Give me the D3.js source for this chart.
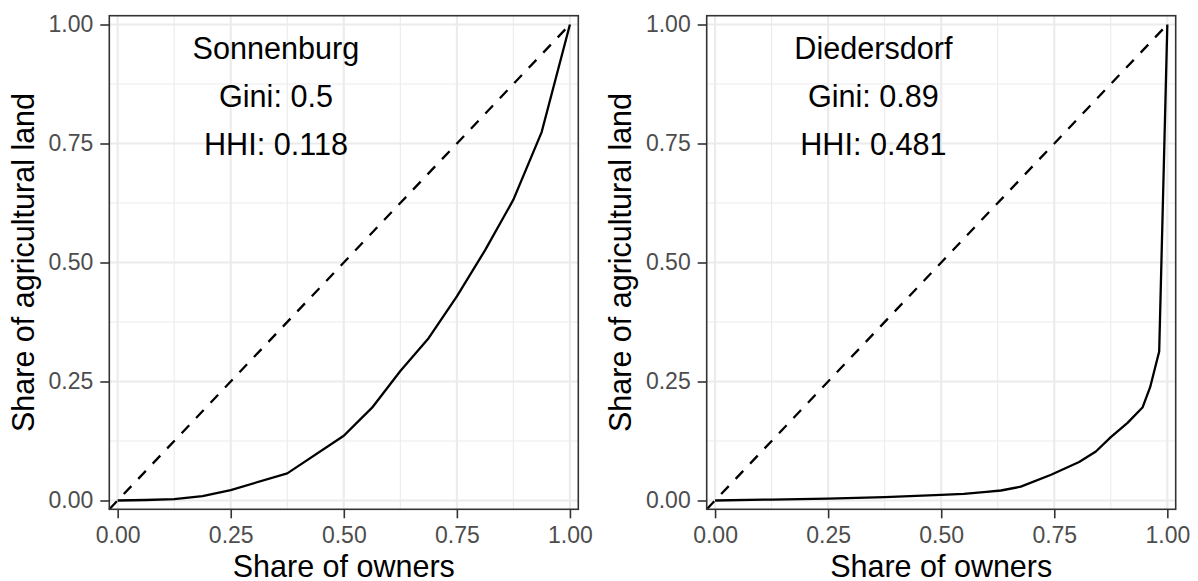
<!DOCTYPE html>
<html>
<head>
<meta charset="utf-8">
<script src="https://cdn.jsdelivr.net/npm/d3@7"></script>
<style>
  html, body { margin: 0; padding: 0; background: #ffffff; }
  svg { display: block; font-family: "Liberation Sans", Arial, sans-serif; }
</style>
</head>
<body>
<svg id="chart" width="1198" height="581"></svg>
<script>
// Lorenz curves of agricultural land ownership for two villages

// Sonnenburg: cumulative share of owners vs cumulative share of land
const ownersSonnenburg = [0, 0.0625, 0.125, 0.1875, 0.25, 0.375, 0.5, 0.5625, 0.625, 0.6875, 0.75, 0.8125, 0.875, 0.9375, 1];
const landSonnenburg   = [0, 0.001, 0.003, 0.009, 0.022, 0.057, 0.136, 0.195, 0.272, 0.341, 0.429, 0.526, 0.632, 0.774, 1];

// Diedersdorf
const ownersDiedersdorf = [0, 0.125, 0.25, 0.375, 0.5, 0.55, 0.6, 0.632, 0.676, 0.743, 0.805, 0.842, 0.875, 0.912, 0.9455, 0.962, 0.982, 1];
const landDiedersdorf   = [0, 0.002, 0.004, 0.007, 0.012, 0.014, 0.018, 0.021, 0.029, 0.054, 0.081, 0.103, 0.133, 0.163, 0.196, 0.238, 0.313, 1];

// Annotation text per panel
const villageNames = ["Sonnenburg", "Diedersdorf"];
const giniValues = ["0.5", "0.89"];
const hhiValues = ["0.118", "0.481"];

// Axis ticks
const majorTicks = [0, 0.25, 0.5, 0.75, 1];
const minorTicks = [0.125, 0.375, 0.625, 0.875];

// Axis titles
const xTitle = "Share of owners";
const yTitle = "Share of agricultural land";

const panels = [
  { name: villageNames[0], gini: giniValues[0], hhi: hhiValues[0], owners: ownersSonnenburg, land: landSonnenburg, left: 109.3, right: 578.3, titleX: 34 },
  { name: villageNames[1], gini: giniValues[1], hhi: hhiValues[1], owners: ownersDiedersdorf, land: landDiedersdorf, left: 706.7, right: 1175.7, titleX: 631 }
];

const panelTop = 15.7, panelBottom = 509.3;
const expand = 0.0185;
const svg = d3.select("#chart");

panels.forEach(p => {
  const x = d3.scaleLinear().domain([-expand, 1 + expand]).range([p.left, p.right]);
  const y = d3.scaleLinear().domain([-expand, 1 + expand]).range([panelBottom, panelTop]);
  const g = svg.append("g");

  // background grid
  const grid = g.append("g");
  grid.selectAll(".vminor").data(minorTicks).join("line")
    .attr("x1", d => x(d)).attr("x2", d => x(d))
    .attr("y1", panelTop).attr("y2", panelBottom)
    .attr("stroke", "#ebebeb").attr("stroke-width", 1.1);
  grid.selectAll(".hminor").data(minorTicks).join("line")
    .attr("y1", d => y(d)).attr("y2", d => y(d))
    .attr("x1", p.left).attr("x2", p.right)
    .attr("stroke", "#ebebeb").attr("stroke-width", 1.1);
  grid.selectAll(".vmajor").data(majorTicks).join("line")
    .attr("x1", d => x(d)).attr("x2", d => x(d))
    .attr("y1", panelTop).attr("y2", panelBottom)
    .attr("stroke", "#ebebeb").attr("stroke-width", 2.1);
  grid.selectAll(".hmajor").data(majorTicks).join("line")
    .attr("y1", d => y(d)).attr("y2", d => y(d))
    .attr("x1", p.left).attr("x2", p.right)
    .attr("stroke", "#ebebeb").attr("stroke-width", 2.1);

  // line of equality
  g.append("path")
    .datum([[-expand, -expand], [1, 1]])
    .attr("d", d3.line().x(d => x(d[0])).y(d => y(d[1])))
    .attr("fill", "none")
    .attr("stroke", "#000")
    .attr("stroke-width", 2.3)
    .attr("stroke-dasharray", "11,10");

  // Lorenz curve
  const pts = p.owners.map((o, i) => [o, p.land[i]]);
  g.append("path")
    .datum(pts)
    .attr("d", d3.line().x(d => x(d[0])).y(d => y(d[1])))
    .attr("fill", "none")
    .attr("stroke", "#000")
    .attr("stroke-width", 2.3)
    .attr("stroke-linejoin", "round");

  // panel border
  g.append("rect")
    .attr("x", p.left).attr("y", panelTop)
    .attr("width", p.right - p.left).attr("height", panelBottom - panelTop)
    .attr("fill", "none").attr("stroke", "#333333").attr("stroke-width", 1.6);

  // axes
  const fmt = d3.format(".2f");
  const xAxis = g.append("g").attr("transform", `translate(0,${panelBottom})`)
    .call(d3.axisBottom(x).tickValues(majorTicks).tickFormat(fmt).tickSize(9).tickPadding(8.2));
  const yAxis = g.append("g").attr("transform", `translate(${p.left},0)`)
    .call(d3.axisLeft(y).tickValues(majorTicks).tickFormat(fmt).tickSize(9).tickPadding(7));
  [xAxis, yAxis].forEach(a => {
    a.select(".domain").remove();
    a.selectAll(".tick line").attr("stroke", "#333333").attr("stroke-width", 1.6);
    a.selectAll(".tick text")
      .attr("fill", "#4d4d4d")
      .style("font-size", "23px")
      .style("font-family", "'Liberation Sans', Arial, sans-serif");
  });

  // axis titles
  g.append("text")
    .attr("x", (p.left + p.right) / 2).attr("y", 576.5)
    .attr("text-anchor", "middle")
    .style("font-size", "30.5px").attr("fill", "#000")
    .text(xTitle);
  g.append("text")
    .attr("transform", `translate(${p.titleX},${(panelTop + panelBottom) / 2}) rotate(-90)`)
    .attr("text-anchor", "middle")
    .style("font-size", "30.5px").attr("fill", "#000")
    .text(yTitle);

  // annotations
  const notes = [
    { v: 0.95, t: p.name },
    { v: 0.85, t: "Gini: " + p.gini },
    { v: 0.75, t: "HHI: " + p.hhi }
  ];
  g.selectAll(".note").data(notes).join("text")
    .attr("x", x(0.35))
    .attr("y", d => y(d.v) + 11)
    .attr("text-anchor", "middle")
    .style("font-size", "30.6px").attr("fill", "#000")
    .text(d => d.t);
});
</script>
</body>
</html>
